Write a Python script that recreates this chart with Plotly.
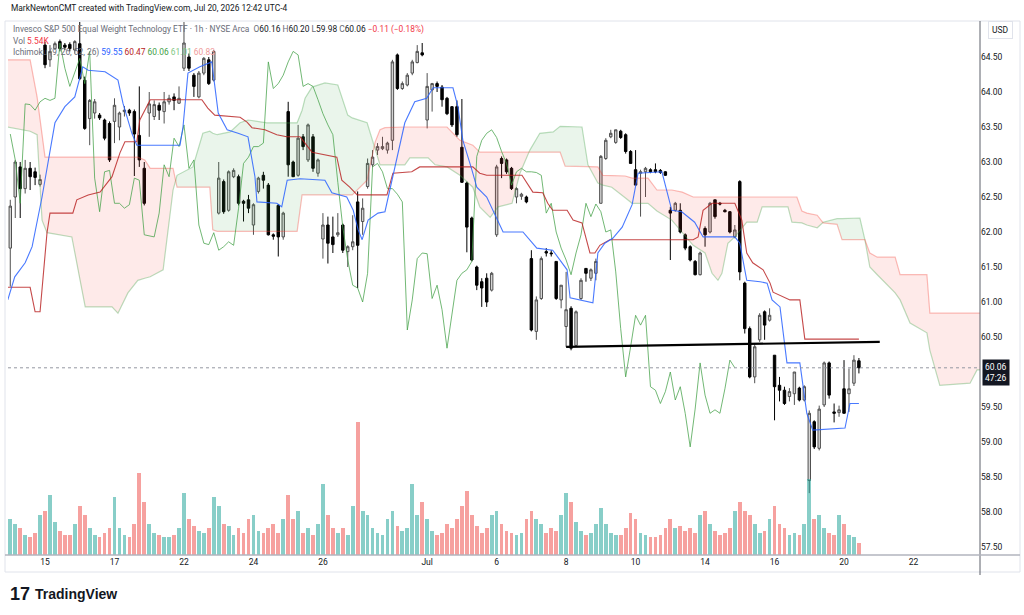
import plotly.graph_objects as go

# ---------------- data ----------------
day_label_bars = [7, 21, 35, 49, 63, 84, 98, 112, 126, 140, 154, 168, 182]
day_labels = ["15", "17", "22", "24", "26", "Jul", "6", "8", "10", "14", "16", "20", "22"]
price_ticks = [57.5, 58.0, 58.5, 59.0, 59.5, 60.5, 61.0, 61.5, 62.0, 62.5, 63.0, 63.5, 64.0, 64.5]

opens = [61.77, 62.50, 62.93, 62.62, 62.91, 62.86, 62.68,
         64.67, 64.46, 64.62, 64.72, 64.67, 64.68, 64.60,
         64.69, 64.17, 63.62, 63.70, 63.67, 63.60, 63.55,
         63.58, 63.50, 63.72, 63.74, 63.72, 63.38, 62.91,
         63.70, 63.65, 63.81, 63.72, 63.86, 63.93, 63.84,
         64.34, 64.50, 64.24, 63.93, 64.27, 64.46, 64.17,
         62.27, 62.72, 62.31, 62.79, 62.79, 62.44, 62.46,
         62.10, 62.58, 62.81, 62.67, 61.96, 62.38, 61.93,
         63.72, 63.00, 62.81, 63.36, 63.03, 63.36, 62.84,
         61.90, 62.10, 61.93, 61.96, 62.10, 61.72, 61.79,
         62.43, 62.15, 62.65, 62.96, 63.17, 63.19, 63.17,
         63.31, 64.53, 64.05, 64.10, 64.27, 64.42, 64.56,
         63.60, 64.03, 64.12, 64.07, 63.91, 63.79, 63.79,
         63.21, 62.70, 62.20, 61.50, 61.29, 61.34, 61.17,
         61.96, 63.05, 63.03, 62.91, 62.50, 62.51, 62.50,
         61.62, 60.58, 61.05, 61.72, 61.70, 61.58, 61.03,
         60.65, 60.91, 60.38, 61.05, 61.48, 61.34, 61.41,
         62.41, 63.05, 63.36, 63.28, 63.44, 63.39, 63.15,
         62.89, 62.84, 62.86, 62.89, 62.89, 62.88, 62.86,
         62.31, 62.31, 62.31, 61.96, 61.79, 61.58, 61.39,
         62.05, 62.00, 62.46, 62.41, 62.31, 62.29, 61.93,
         62.72, 61.27, 60.62, 59.93, 60.46, 60.86, 60.74,
         60.24, 59.81, 59.74, 59.65, 59.69, 59.77, 59.60,
         58.45, 59.29, 58.91, 59.53, 60.13, 59.43, 59.42,
         59.76, 59.69, 59.84, 60.16]

highs = [62.46, 63.03, 63.00, 63.03, 63.00, 62.92, 62.82,
         64.72, 64.67, 64.72, 64.75, 64.70, 64.71, 64.74,
         65.05, 64.22, 63.90, 63.90, 63.70, 63.62, 63.58,
         63.91, 63.72, 63.80, 63.76, 63.75, 64.08, 63.00,
         64.00, 63.88, 63.85, 64.00, 63.96, 63.98, 64.08,
         65.05, 64.55, 64.27, 64.30, 64.50, 64.50, 64.60,
         63.00, 62.75, 62.88, 62.91, 62.82, 62.46, 62.53,
         62.41, 62.79, 62.86, 62.70, 61.98, 62.40, 62.29,
         63.86, 63.02, 63.53, 63.40, 63.55, 63.40, 63.05,
         62.27, 62.22, 62.22, 62.27, 62.12, 61.81, 62.24,
         62.58, 62.48, 63.05, 63.17, 63.27, 63.36, 63.29,
         64.46, 64.55, 64.15, 64.27, 64.46, 64.67, 64.70,
         64.27, 64.13, 64.15, 64.10, 63.93, 63.80, 63.88,
         63.90, 62.72, 62.22, 61.52, 61.34, 61.41, 61.43,
         62.96, 63.08, 63.05, 62.93, 62.64, 62.56, 62.52,
         61.74, 61.08, 61.65, 61.77, 61.74, 61.58, 61.24,
         61.43, 60.94, 60.88, 61.34, 61.48, 61.48, 61.62,
         63.10, 63.34, 63.46, 63.46, 63.46, 63.41, 63.17,
         63.17, 62.89, 62.93, 62.91, 62.98, 62.90, 62.87,
         62.36, 62.43, 62.41, 61.98, 61.81, 61.60, 61.72,
         62.08, 62.43, 62.46, 62.43, 62.33, 62.30, 62.10,
         62.74, 61.29, 60.65, 60.41, 60.84, 60.88, 60.91,
         60.24, 59.93, 59.79, 59.77, 60.00, 59.79, 59.81,
         59.45, 59.31, 59.52, 60.15, 60.15, 59.55, 59.52,
         60.17, 60.05, 60.24, 60.20]

lows = [61.22, 62.20, 62.20, 62.55, 62.60, 62.67, 62.65,
        64.34, 64.36, 64.60, 64.58, 64.60, 64.58, 64.55,
        64.17, 63.46, 63.24, 63.62, 63.60, 63.31, 63.00,
        63.27, 63.31, 63.65, 63.66, 62.80, 62.93, 62.38,
        63.36, 63.60, 63.60, 63.55, 63.82, 63.74, 63.83,
        64.30, 64.30, 63.93, 63.91, 64.24, 64.10, 64.15,
        62.25, 62.26, 62.29, 62.77, 62.38, 62.15, 62.27,
        61.96, 62.55, 62.62, 61.95, 61.89, 61.65, 61.89,
        62.79, 62.79, 62.79, 63.17, 63.00, 62.86, 62.79,
        61.62, 61.55, 61.70, 61.93, 61.70, 61.50, 61.74,
        61.20, 61.96, 62.62, 62.93, 63.10, 63.17, 63.12,
        63.17, 64.03, 64.03, 64.08, 64.24, 64.41, 64.51,
        63.48, 63.72, 64.00, 63.79, 63.67, 63.50, 63.36,
        62.70, 61.71, 61.58, 61.17, 60.93, 60.93, 61.15,
        61.93, 62.77, 62.83, 62.60, 62.41, 62.46, 62.41,
        60.58, 60.46, 61.03, 61.65, 61.65, 61.03, 60.91,
        60.36, 60.31, 60.36, 61.03, 61.29, 61.30, 61.31,
        62.41, 63.03, 63.34, 63.26, 63.33, 63.12, 62.98,
        62.67, 62.22, 62.50, 62.84, 62.84, 62.83, 62.80,
        61.60, 62.29, 61.98, 61.74, 61.58, 61.38, 61.38,
        61.79, 61.98, 62.19, 62.38, 62.28, 61.98, 61.91,
        61.31, 60.55, 59.91, 59.84, 60.43, 60.46, 60.72,
        59.31, 59.58, 59.53, 59.58, 59.53, 59.58, 59.58,
        58.27, 58.90, 58.88, 59.50, 59.62, 59.28, 59.36,
        59.41, 59.43, 59.80, 59.98]

closes = [62.37, 63.00, 62.62, 62.91, 62.79, 62.78, 62.75,
          64.39, 64.58, 64.69, 64.62, 64.64, 64.62, 64.72,
          64.19, 63.48, 63.88, 63.86, 63.63, 63.34, 63.03,
          63.81, 63.70, 63.74, 63.70, 63.40, 63.03, 62.41,
          63.83, 63.82, 63.74, 63.86, 63.91, 63.88, 63.91,
          64.70, 64.34, 64.08, 64.27, 64.48, 64.12, 64.58,
          62.77, 62.29, 62.86, 62.88, 62.41, 62.41, 62.34,
          62.39, 62.77, 62.74, 61.96, 61.94, 61.93, 62.27,
          62.96, 62.79, 63.34, 63.22, 63.53, 62.91, 63.03,
          62.10, 61.84, 61.82, 61.99, 61.74, 61.79, 61.86,
          61.81, 62.34, 62.98, 63.07, 63.22, 63.22, 63.27,
          64.43, 64.05, 64.12, 64.24, 64.43, 64.58, 64.53,
          64.08, 64.12, 64.08, 63.89, 63.69, 63.53, 63.39,
          62.71, 62.07, 61.60, 61.24, 61.20, 61.00, 61.41,
          62.93, 62.98, 62.86, 62.62, 62.62, 62.54, 62.43,
          60.60, 61.03, 61.62, 61.70, 61.69, 61.05, 61.24,
          60.89, 60.34, 60.86, 61.31, 61.41, 61.46, 61.58,
          63.08, 63.31, 63.41, 63.46, 63.35, 63.15, 62.98,
          62.67, 62.86, 62.91, 62.86, 62.86, 62.85, 62.81,
          62.27, 62.41, 62.00, 61.77, 61.60, 61.39, 61.70,
          61.96, 62.41, 62.22, 62.40, 62.29, 62.00, 62.03,
          61.43, 60.62, 59.93, 60.36, 60.81, 60.67, 60.81,
          59.79, 59.74, 59.55, 59.72, 60.00, 59.60, 59.79,
          59.41, 58.93, 59.47, 60.13, 59.67, 59.41, 59.46,
          59.41, 59.76, 60.17, 60.06]

volumes_k = [16, 14, 12, 9, 8, 10, 18,
             20, 27, 15, 11, 9, 9, 14,
             22, 18, 12, 9, 8, 10, 12,
             26, 12, 9, 8, 14, 37, 24,
             14, 10, 9, 8, 8, 9, 12,
             28, 16, 13, 11, 10, 12, 26,
             22, 14, 13, 9, 12, 10, 16,
             18, 11, 10, 12, 14, 10, 16,
             27, 16, 20, 10, 12, 9, 14,
             32, 18, 12, 10, 12, 9, 22,
             60, 20, 18, 12, 10, 9, 16,
             20, 13, 11, 12, 32, 18, 24,
             16, 11, 9, 10, 14, 12, 16,
             22, 29, 18, 13, 10, 12, 18,
             20, 14, 11, 10, 9, 10, 16,
             20, 16, 14, 10, 12, 11, 18,
             28, 24, 15, 11, 9, 10, 14,
             21, 14, 10, 9, 9, 12, 19,
             16, 10, 9, 8, 8, 9, 12,
             16, 12, 13, 11, 12, 10, 18,
             20, 14, 11, 9, 10, 12, 20,
             24, 20, 18, 14, 10, 11, 16,
             22, 14, 12, 9, 10, 9, 14,
             34, 16, 18, 12, 10, 9, 18,
             14, 9, 8, 5.54]

# Ichimoku lines (bar index, price)
tenkan_i = [-0.5, 0.9, 3.0, 4.4, 6.4, 7.6, 9.0, 11.0, 13.0, 14.6, 15.7, 19.1, 21.7, 22.7, 24.5, 25.5,
            34.2, 34.8, 35.8, 38.2, 40.6, 41.9, 43.7, 45.9, 47.9, 49.3, 49.7, 53.7, 54.7, 55.8, 58.4,
            63.4, 64.8, 67.8, 69.1, 70.1, 70.9, 72.1, 74.1, 75.5, 76.5, 79.5, 81.5, 83.9, 85.2, 89.2,
            90.2, 91.2, 93.0, 94.0, 96.0, 99.3, 103.3, 106.1, 109.3, 112.2, 112.8, 117.4, 118.4, 119.8,
            121.4, 123.3, 125.3, 125.9, 126.5, 131.3, 132.3, 133.3, 135.3, 137.9, 139.6, 146.0, 147.0,
            148.4, 151.1, 152.5, 153.5, 155.1, 156.5, 159.1, 160.5, 161.7, 168.2, 169.2, 171.0]
tenkan_p = [61.03, 61.36, 61.56, 61.79, 62.50, 62.99, 63.56, 63.79, 63.93, 64.36, 64.31, 64.29, 64.17, 63.84,
            63.41, 63.24, 63.24, 63.50, 64.27, 64.36, 64.43, 63.70, 63.46, 63.41, 63.36, 62.79, 62.43,
            62.41, 62.36, 62.74, 62.76, 62.74, 62.56, 62.50, 62.31, 62.03, 61.89, 62.17, 62.27, 62.29,
            62.60, 63.56, 63.86, 63.91, 64.06, 64.06, 63.79, 63.31, 62.89, 62.64, 62.50, 62.00, 62.00,
            61.77, 61.74, 61.46, 61.06, 60.99, 61.70, 61.84, 61.91, 62.07, 62.39, 62.63, 62.84, 62.86,
            62.57, 62.31, 62.29, 62.14, 61.93, 61.93, 61.84, 61.31, 61.29, 61.27, 61.03, 60.93, 60.13,
            60.13, 59.41, 59.17, 59.20, 59.55, 59.55]

kijun_i = [-0.5, 4.0, 5.0, 6.0, 7.4, 8.0, 12.6, 13.4, 15.7, 18.1, 20.5, 22.1, 23.1, 25.5, 26.1, 28.2,
           38.6, 39.8, 41.2, 46.3, 47.7, 48.7, 51.3, 53.7, 55.7, 58.4, 60.8, 65.8, 66.8, 68.4, 69.9,
           75.9, 77.1, 80.9, 82.5, 93.2, 94.6, 96.0, 103.1, 105.3, 107.3, 108.3, 109.3, 112.2, 113.4,
           115.2, 116.8, 117.8, 118.8, 120.8, 137.6, 138.6, 139.6, 141.4, 146.0, 147.4, 148.4, 149.6,
           151.7, 153.1, 153.7, 157.1, 159.1, 160.1, 171.0]
kijun_p = [61.21, 61.21, 60.86, 60.86, 61.99, 62.27, 62.27, 62.46, 62.53, 62.57, 62.79, 63.13, 63.29,
           63.29, 63.60, 63.89, 63.89, 63.77, 63.67, 63.64, 63.57, 63.49, 63.46, 63.39, 63.36, 63.36,
           63.14, 63.07, 62.74, 62.64, 62.53, 62.53, 62.84, 62.86, 62.93, 62.93, 62.84, 62.81, 62.81,
           62.57, 62.56, 62.41, 62.31, 62.31, 62.17, 62.13, 61.70, 61.70, 61.81, 61.89, 61.89, 61.93,
           62.31, 62.41, 62.41, 62.17, 61.70, 61.56, 61.46, 61.27, 61.14, 61.03, 61.03, 60.47, 60.47]

cloud_i = [-0.5, 4.0, 5.4, 6.4, 7.0, 7.4, 12.4, 14.0, 15.1, 20.5, 21.7, 23.7, 25.7, 27.1, 28.2, 30.8,
           32.8, 33.6, 36.8, 38.8, 40.2, 40.8, 41.7, 44.3, 46.3, 47.9, 51.7, 57.8, 58.8, 59.4, 60.8,
           63.4, 66.0, 68.0, 68.9, 71.9, 73.5, 74.5, 75.5, 79.5, 80.5, 84.2, 85.6, 88.0, 90.6, 93.2,
           94.6, 96.7, 98.3, 101.1, 102.7, 104.7, 106.7, 109.4, 110.8, 111.8, 114.2, 115.2, 116.4,
           118.4, 119.4, 121.2, 123.9, 125.3, 128.5, 130.3, 133.3, 135.4, 137.6, 140.0, 141.4, 142.6,
           143.4, 144.6, 146.0, 148.4, 150.5, 151.5, 156.7, 157.5, 158.5, 159.5, 160.5, 162.6, 163.8,
           166.6, 167.6, 171.2, 172.2, 173.2, 174.7, 178.3, 179.3, 181.3, 184.7, 185.3, 187.3, 193.4,
           194.8, 196.0]
span_a = [63.50, 63.44, 63.39, 62.17, 62.06, 61.99, 61.93, 61.31, 60.93, 60.93, 60.84, 61.13, 61.31,
          61.34, 61.36, 61.46, 62.60, 62.81, 62.93, 63.41, 63.44, 63.41, 63.39, 63.43, 63.56, 63.60,
          63.56, 63.56, 63.74, 63.91, 64.07, 64.13, 64.10, 63.67, 63.63, 63.56, 63.17, 62.96, 62.96,
          62.96, 63.06, 63.06, 62.96, 62.93, 62.81, 62.64, 62.36, 62.21, 62.36, 62.41, 62.84, 63.17,
          63.41, 63.43, 63.51, 63.51, 63.50, 63.50, 62.96, 62.70, 62.67, 62.64, 62.49, 62.41, 62.41,
          62.30, 62.17, 61.99, 61.81, 61.70, 61.41, 61.31, 61.41, 61.84, 61.93, 62.14, 62.14, 62.36,
          62.36, 62.14, 62.14, 62.13, 62.10, 62.06, 62.14, 62.19, 62.19, 62.20, 61.89, 61.50, 61.39,
          61.13, 61.03, 60.70, 60.56, 60.31, 59.81, 59.84, 60.03, 60.03]
span_b = [64.46, 64.46, 63.93, 63.41, 63.07, 63.07, 63.07, 63.07, 63.07, 63.07, 63.07, 63.07, 63.07,
          63.03, 62.91, 62.91, 62.91, 62.64, 62.64, 62.64, 62.64, 62.03, 62.01, 62.01, 62.01, 62.01,
          62.01, 62.01, 62.53, 62.53, 62.53, 62.53, 62.53, 62.53, 62.53, 62.74, 63.28, 63.46, 63.49,
          63.50, 63.50, 63.50, 63.50, 63.50, 63.31, 63.24, 63.14, 63.14, 63.14, 63.14, 63.14, 63.14,
          63.14, 63.14, 63.14, 62.94, 62.94, 62.94, 62.94, 62.93, 62.81, 62.81, 62.80, 62.77, 62.77,
          62.60, 62.60, 62.57, 62.50, 62.50, 62.50, 62.50, 62.50, 62.50, 62.50, 62.50, 62.50, 62.50,
          62.50, 62.50, 62.50, 62.30, 62.27, 62.24, 62.13, 62.11, 61.89, 61.89, 61.89, 61.70, 61.64,
          61.64, 61.39, 61.39, 61.39, 60.84, 60.84, 60.84, 60.84, 60.84]

support_i = [112, 175.2]
support_p = [60.36, 60.43]

last_price = 60.06
chikou_shift = 25

# ---------------- layout geometry (pixels of the 1024x615 page) ----------------
W, H = 1024, 615
PL, PR, PT, PB = 8, 980, 22, 555          # plot area edges


def px(x):
    return (x - PL) / (PR - PL)


def py(y):
    return (PB - y) / (PB - PT)


n = len(closes)
bars = list(range(n))
x_lo, x_hi = -0.46, 195.4
y_lo, y_hi = 57.386, 65.0

fig = go.Figure()


def cloud_runs(xs, a, b):
    pts = []
    for k in range(len(xs)):
        pts.append((xs[k], a[k], b[k]))
        if k < len(xs) - 1:
            d0, d1 = a[k] - b[k], a[k + 1] - b[k + 1]
            if d0 * d1 < 0:
                t = d0 / (d0 - d1)
                xc = xs[k] + t * (xs[k + 1] - xs[k])
                yc = a[k] + t * (a[k + 1] - a[k])
                pts.append((xc, yc, yc))
    runs, cur, sg = [], [], None
    for p in pts:
        d = p[1] - p[2]
        s = 0 if abs(d) < 1e-9 else (1 if d > 0 else -1)
        if s == 0:
            cur.append(p)
            if sg is not None:
                runs.append((sg, cur))
            cur, sg = [p], None
        else:
            cur.append(p)
            sg = s
    if sg is not None:
        runs.append((sg, cur))
    return runs


gx, gy, rx, ry = [], [], [], []
for sg, run in cloud_runs(cloud_i, span_a, span_b):
    qx = [p[0] for p in run] + [p[0] for p in reversed(run)] + [None]
    qy = [p[1] for p in run] + [p[2] for p in reversed(run)] + [None]
    if sg > 0:
        gx += qx; gy += qy
    else:
        rx += qx; ry += qy

fig.add_trace(go.Bar(x=bars, y=volumes_k, yaxis="y2", width=0.75,
                     marker=dict(color=["rgba(38,166,154,0.55)" if c >= o else "rgba(239,83,80,0.55)"
                                        for o, c in zip(opens, closes)], line=dict(width=0)),
                     hoverinfo="skip", showlegend=False))

fig.add_trace(go.Scatter(x=gx, y=gy, mode="none", fill="toself", fillcolor="rgba(67,160,71,0.11)",
                         hoverinfo="skip", showlegend=False))
fig.add_trace(go.Scatter(x=rx, y=ry, mode="none", fill="toself", fillcolor="rgba(244,67,54,0.11)",
                         hoverinfo="skip", showlegend=False))
fig.add_trace(go.Scatter(x=cloud_i, y=span_a, mode="lines", line=dict(color="rgba(67,160,71,0.35)", width=1.2),
                         hoverinfo="skip", showlegend=False))
fig.add_trace(go.Scatter(x=cloud_i, y=span_b, mode="lines", line=dict(color="rgba(244,67,54,0.35)", width=1.2),
                         hoverinfo="skip", showlegend=False))

fig.add_trace(go.Scatter(x=[i - chikou_shift for i in bars[chikou_shift:]], y=closes[chikou_shift:],
                         mode="lines", line=dict(color="rgba(67,160,71,0.75)", width=1),
                         hoverinfo="skip", showlegend=False))
fig.add_trace(go.Scatter(x=kijun_i, y=kijun_p, mode="lines", line=dict(color="rgba(183,28,28,0.8)", width=1.1),
                         hoverinfo="skip", showlegend=False))
fig.add_trace(go.Scatter(x=tenkan_i, y=tenkan_p, mode="lines", line=dict(color="rgba(41,98,255,0.85)", width=1.1),
                         hoverinfo="skip", showlegend=False))

fig.add_trace(go.Candlestick(x=bars, open=opens, high=highs, low=lows, close=closes,
                             increasing=dict(line=dict(color="#505050", width=1), fillcolor="#d4d4d4"),
                             decreasing=dict(line=dict(color="#000000", width=1), fillcolor="#000000"),
                             whiskerwidth=0, hoverinfo="skip", showlegend=False))

fig.add_trace(go.Scatter(x=support_i, y=support_p, mode="lines", line=dict(color="#000000", width=2.2),
                         hoverinfo="skip", showlegend=False))

shapes = [
    dict(type="line", xref="x", yref="y", x0=x_lo, x1=x_hi, y0=last_price, y1=last_price,
         line=dict(color="#9598a1", width=1, dash="dot")),
    dict(type="rect", xref="paper", yref="paper", x0=px(5), x1=px(1020), y0=py(572), y1=py(21),
         line=dict(color="#e0e3eb", width=1)),
    dict(type="line", xref="paper", yref="paper", x0=px(980), x1=px(980), y0=py(575), y1=py(21),
         line=dict(color="#5d606b", width=1)),
    dict(type="line", xref="paper", yref="paper", x0=px(5), x1=px(1020), y0=py(555), y1=py(555),
         line=dict(color="#b2b5be", width=1.5)),
]

font_fam = "Roboto, Liberation Sans, Arial, sans-serif"
grey = "#6a6d78"
annotations = [
    dict(xref="paper", yref="paper", x=px(9), y=py(8), xanchor="left", yanchor="middle",
         text="MarkNewtonCMT created with TradingView.com, Jul 20, 2026 12:42 UTC-4",
         showarrow=False, font=dict(size=8.4, color="#131722", family=font_fam)),
    dict(xref="paper", yref="paper", x=px(11), y=py(29), xanchor="left", yanchor="middle",
         text=f"<span style='color:{grey}'>Invesco S&amp;P 500 Equal Weight Technology ETF · 1h · NYSE Arca</span>"
              f"  <span style='color:{grey}'>O</span>60.16 <span style='color:{grey}'>H</span>60.20"
              f" <span style='color:{grey}'>L</span>59.98 <span style='color:{grey}'>C</span>60.06"
              " <span style='color:#f23645'>−0.11 (−0.18%)</span>",
         showarrow=False, font=dict(size=8.4, color="#131722", family=font_fam)),
    dict(xref="paper", yref="paper", x=px(11), y=py(41), xanchor="left", yanchor="middle",
         text=f"<span style='color:{grey}'>Vol</span> <span style='color:#f23645'>5.54K</span>",
         showarrow=False, font=dict(size=8.4, family=font_fam)),
    dict(xref="paper", yref="paper", x=px(11), y=py(52), xanchor="left", yanchor="middle",
         text=f"<span style='color:{grey}'>Ichimoku (9, 26, 52, 26)</span>"
              " <span style='color:#2962ff'>59.55</span> <span style='color:#b71c1c'>60.47</span>"
              " <span style='color:#43a047'>60.06</span> <span style='color:#81c784'>61.01</span>"
              " <span style='color:#ef9a9a'>60.83</span>",
         showarrow=False, font=dict(size=8.4, family=font_fam)),
    dict(xref="paper", yref="paper", x=px(1000), y=py(30), xanchor="center", yanchor="middle",
         text="USD", showarrow=False, bordercolor="#e0e3eb", borderwidth=1, borderpad=3, bgcolor="#ffffff",
         font=dict(size=8.5, color="#131722", family=font_fam)),
    dict(xref="paper", yref="y", x=px(982), y=last_price, xanchor="left", yanchor="middle", yshift=-5,
         text="60.06<br>47:26", showarrow=False, bgcolor="#131722", borderpad=2, align="center",
         font=dict(size=8.5, color="#ffffff", family=font_fam)),
    dict(xref="paper", yref="paper", x=px(8), y=py(594), xanchor="left", yanchor="middle",
         text="<b>17</b>", showarrow=False, font=dict(size=18, color="#131722", family="Liberation Sans, Arial")),
    dict(xref="paper", yref="paper", x=px(33), y=py(594), xanchor="left", yanchor="middle",
         text="<b>TradingView</b>", showarrow=False,
         font=dict(size=14, color="#131722", family="Liberation Sans Narrow, Liberation Sans, Arial")),
]

fig.update_layout(
    width=W, height=H, autosize=False,
    margin=dict(l=PL, r=W - PR, t=PT, b=H - PB),
    paper_bgcolor="#ffffff", plot_bgcolor="#ffffff",
    showlegend=False, hovermode=False, bargap=0,
    shapes=shapes, annotations=annotations,
    xaxis=dict(range=[x_lo, x_hi], rangeslider=dict(visible=False), showgrid=False, zeroline=False,
               tickmode="array", tickvals=day_label_bars, ticktext=day_labels, ticks="",
               tickfont=dict(size=8.5, color="#131722", family=font_fam), showline=False),
    yaxis=dict(range=[y_lo, y_hi], side="right", showgrid=False, zeroline=False,
               tickmode="array", tickvals=price_ticks,
               ticktext=["%.2f" % v for v in price_ticks], ticks="",
               tickfont=dict(size=8.5, color="#131722", family=font_fam), showline=False),
    yaxis2=dict(range=[0, 240], overlaying="y", showticklabels=False, showgrid=False, zeroline=False),
)

fig.write_html("out.html", config=dict(displayModeBar=False))
